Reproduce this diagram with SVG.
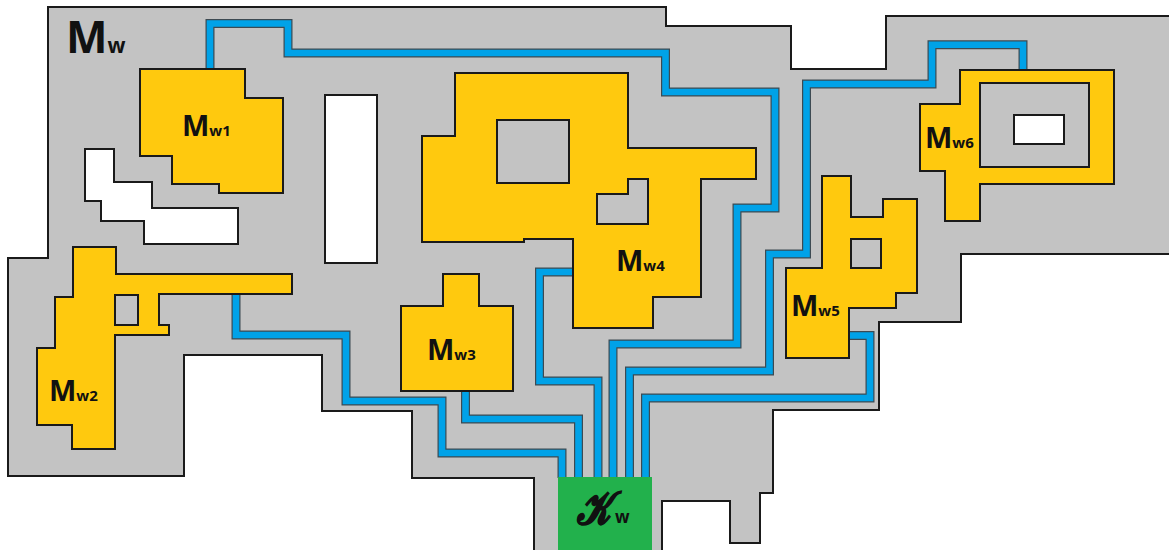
<svg xmlns="http://www.w3.org/2000/svg" width="1169" height="550" viewBox="0 0 1169 550">
  <style>
    .area { fill: #c3c3c3; stroke: #1a1a1a; stroke-width: 2; stroke-linejoin: miter; }
    .void { fill: #ffffff; stroke: #1a1a1a; stroke-width: 2; }
    .room { fill: #ffc90e; stroke: #1a1a1a; stroke-width: 2; }
    .hole { fill: #c3c3c3; stroke: #1a1a1a; stroke-width: 2; }
    .pipe-o { fill: none; stroke: #3d4a52; stroke-width: 9; stroke-linejoin: miter; stroke-linecap: butt; }
    .pipe-i { fill: none; stroke: #00a2e8; stroke-width: 6.6; stroke-linejoin: miter; stroke-linecap: butt; }
    .lbl { font-family: "Open Sans", "Noto Sans", "DejaVu Sans", sans-serif; font-weight: 700; fill: #111111; }
    .sub { font-size: 15px; }
  </style>
  <rect width="1169" height="550" fill="#ffffff"/>

  <g id="Mw">
    <polygon class="area" points="48,7 666,7 666,26 791,26 791,69 886,69 886,16 1172,16 1172,254 961,254 961,322 879,322 879,410 773,410 773,493 760,493 760,543 730,543 730,501 662,501 662,553 534,553 534,478 412,478 412,411 322,411 322,355 184,355 184,476 8,476 8,258 48,258"/>
    <polygon class="void" points="85,149 114,149 114,182 152,182 152,208 238,208 238,244 144,244 144,221 101,221 101,201 85,201"/>
    <rect class="void" x="325" y="95" width="52" height="168"/>
    <text class="lbl" x="66" y="53" font-size="44">M<tspan font-size="21">w</tspan></text>
  </g>

  <g id="connectors">
    <path class="pipe-o" d="M210,72 V23.5 H288 V53 H665.5 V92 H775 V208 H737 V344 H613 V478"/>
    <path class="pipe-o" d="M1023,72 V44.7 H932 V84 H806.5 V254 H769.5 V371 H629.5 V478"/>
    <path class="pipe-o" d="M846,335.5 H870 V398 H645.5 V478"/>
    <path class="pipe-o" d="M576,272 H539.5 V381 H598 V478"/>
    <path class="pipe-o" d="M465.5,388 V419 H578.5 V478"/>
    <path class="pipe-o" d="M236,291 V335 H346 V401 H442 V453 H562 V478"/>
    <path class="pipe-i" d="M210,72 V23.5 H288 V53 H665.5 V92 H775 V208 H737 V344 H613 V478"/>
    <path class="pipe-i" d="M1023,72 V44.7 H932 V84 H806.5 V254 H769.5 V371 H629.5 V478"/>
    <path class="pipe-i" d="M846,335.5 H870 V398 H645.5 V478"/>
    <path class="pipe-i" d="M576,272 H539.5 V381 H598 V478"/>
    <path class="pipe-i" d="M465.5,388 V419 H578.5 V478"/>
    <path class="pipe-i" d="M236,291 V335 H346 V401 H442 V453 H562 V478"/>
  </g>

  <g id="Mw1">
    <polygon class="room" points="140,69 245,69 245,98 283,98 283,193 219,193 219,184 172,184 172,156 140,156"/>
    <text class="lbl" x="182" y="136" font-size="29">M<tspan class="sub">w1</tspan></text>
  </g>

  <g id="Mw2">
    <polygon class="room" points="73,247 116,247 116,274 292,274 292,294 159,294 159,325 169,325 169,335 115,335 115,449 72,449 72,425 37,425 37,348 55,348 55,297 73,297"/>
    <rect class="hole" x="115" y="295" width="23" height="30"/>
    <text class="lbl" x="49" y="401" font-size="29">M<tspan class="sub">w2</tspan></text>
  </g>

  <g id="Mw3">
    <polygon class="room" points="443,274 479,274 479,306 513,306 513,391 401,391 401,306 443,306"/>
    <text class="lbl" x="427" y="360" font-size="29">M<tspan class="sub">w3</tspan></text>
  </g>

  <g id="Mw4">
    <polygon class="room" points="455,73 628,73 628,148 756,148 756,179 701,179 701,297 653,297 653,328 573,328 573,239 524,239 524,242 422,242 422,136 455,136"/>
    <rect class="hole" x="497" y="120" width="72" height="63"/>
    <polygon class="hole" points="597,194 628,194 628,179 648,179 648,224 597,224"/>
    <text class="lbl" x="616" y="271" font-size="29">M<tspan class="sub">w4</tspan></text>
  </g>

  <g id="Mw5">
    <polygon class="room" points="822,176 851,176 851,217 883,217 883,199 917,199 917,293 896,293 896,308 849,308 849,358 786,358 786,268 822,268"/>
    <rect class="hole" x="851" y="239" width="30" height="29"/>
    <text class="lbl" x="791" y="316" font-size="29">M<tspan class="sub">w5</tspan></text>
  </g>

  <g id="Mw6">
    <polygon class="room" points="960,70 1114,70 1114,184 980,184 980,221 945,221 945,171 920,171 920,104 960,104"/>
    <rect class="hole" x="980" y="83" width="109" height="84"/>
    <rect class="void" x="1014" y="115" width="50" height="29"/>
    <text class="lbl" x="925" y="148" font-size="29">M<tspan class="sub">w6</tspan></text>
  </g>

  <g id="Kw">
    <rect x="558" y="477" width="94" height="75" fill="#22b14c"/>
    <text transform="translate(577,524) scale(0.78,1)" font-family="DejaVu Serif, Liberation Serif, serif" font-style="italic" font-weight="700" font-size="46" fill="#111111" stroke="#111111" stroke-width="1.4">𝒦</text>
    <text class="lbl" x="615" y="523" font-size="17">w</text>
  </g>
</svg>
